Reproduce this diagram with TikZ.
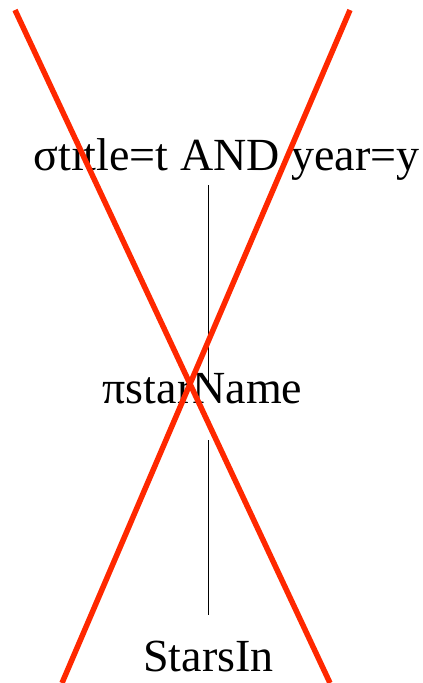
\documentclass[tikz,border=0pt]{standalone}
\usepackage{fontspec}
\setmainfont{Liberation Serif}
\definecolor{crossred}{RGB}{255,40,0}
\tikzset{
    op/.style={inner sep=0pt, anchor=base, font=\fontsize{46}{50}\selectfont,
        text height=32pt, text depth=11.5pt},
    edge/.style={line width=0.8pt, black},
    strike/.style={line width=5.5pt, crossred}
}
\begin{document}
\begin{tikzpicture}[x=1pt, y=-1pt]

        \useasboundingbox (0,0) rectangle (423,683);

        %----- OPERATOR TREE -----
        \node[op] (sel)  at (226.5,170) {σtitle=t AND year=y};
        \node[op] (proj) at (202.5,403) {πstarName};
        \node[op, text depth=0pt] (rel) at (208.5,671) {StarsIn};

        %----- EDGES -----
        \draw[edge, shorten <=3.5pt, shorten >=-13pt]
            (sel.south -| rel.north) -- (proj.north -| rel.north);
        \draw[edge, shorten <=25.5pt, shorten >=24pt]
            (proj.south -| rel.north) -- (rel.north);

        %----- RED CROSS -----
        \begin{scope}
            \clip (0,0) rectangle (423,683);
            \draw[strike] (15,10) -- (330,683);
            \draw[strike] (350,10) -- (62,683);
        \end{scope}

    \end{tikzpicture}
\end{document}
